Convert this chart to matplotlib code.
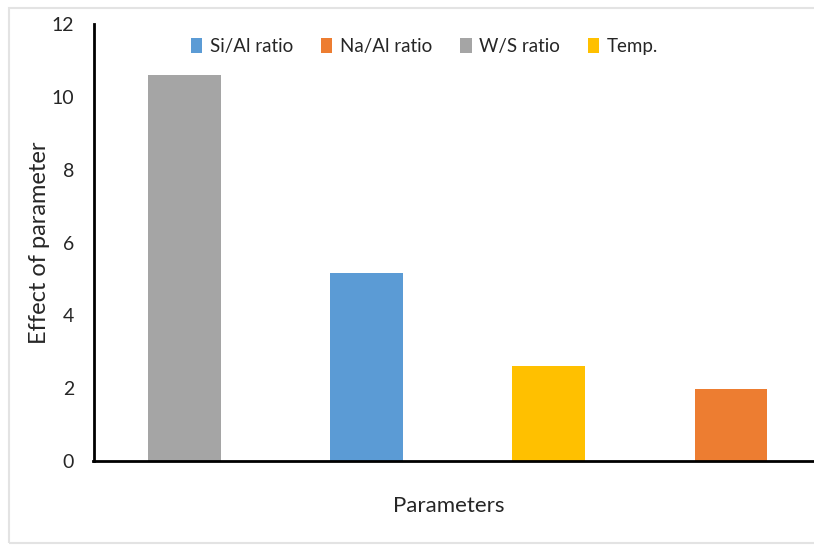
import matplotlib
matplotlib.use('Agg')
import matplotlib.pyplot as plt
from matplotlib.patches import Patch, Rectangle

plt.rcParams['font.family'] = ['Lato', 'DejaVu Sans']

# data
params = ['W/S ratio', 'Si/Al ratio', 'Temp.', 'Na/Al ratio']
effects = [10.6, 5.15, 2.6, 1.97]
legend_order = ['Si/Al ratio', 'Na/Al ratio', 'W/S ratio', 'Temp.']
y_ticks = [0, 2, 4, 6, 8, 10, 12]

colors = {'Si/Al ratio': '#5B9BD5', 'Na/Al ratio': '#ED7D31',
          'W/S ratio': '#A5A5A5', 'Temp.': '#FFC000'}

fig = plt.figure(figsize=(8.14, 5.45), dpi=100, facecolor='white')

# light chart-area border like the Excel frame (right side is cropped off)
fig.patches.append(Rectangle((9 / 814, 2 / 545), 1.2, 1 - 9.5 / 545,
                             transform=fig.transFigure, fill=False,
                             edgecolor='#e3e3e3', linewidth=1.5))

# axes run past the right edge (the reference is cropped there)
ax = fig.add_axes([93.5 / 814, 84 / 545, 728.5 / 814, 437 / 545])

x = list(range(len(params)))
ax.bar(x, effects, width=0.4, color=[colors[p] for p in params])

ax.set_xlim(-0.5, 3.5)
ax.set_ylim(0, 12)
ax.set_yticks(y_ticks)
ax.set_xticks([])
ax.tick_params(axis='y', length=0, pad=14, labelsize=14, colors='#262626')

for side in ['top', 'right']:
    ax.spines[side].set_visible(False)
for side in ['left', 'bottom']:
    ax.spines[side].set_color('black')
    ax.spines[side].set_linewidth(2.0)

ax.set_ylabel('Effect of parameter', fontsize=17, color='#262626')
ax.yaxis.set_label_coords(-0.060, 0.5)
ax.set_xlabel('Parameters', fontsize=16, color='#262626')
ax.xaxis.set_label_coords(0.487, -0.080)

handles = [Patch(facecolor=colors[p], label=p) for p in legend_order]
fig.legend(handles=handles, loc='center', bbox_to_anchor=(0.5215, 0.915),
           ncol=4, frameon=False, fontsize=13.5, handlelength=0.6,
           handleheight=0.9, handletextpad=0.4, columnspacing=1.5,
           labelcolor='#262626')

plt.savefig('out.png', dpi=100, facecolor='white')
plt.close()
